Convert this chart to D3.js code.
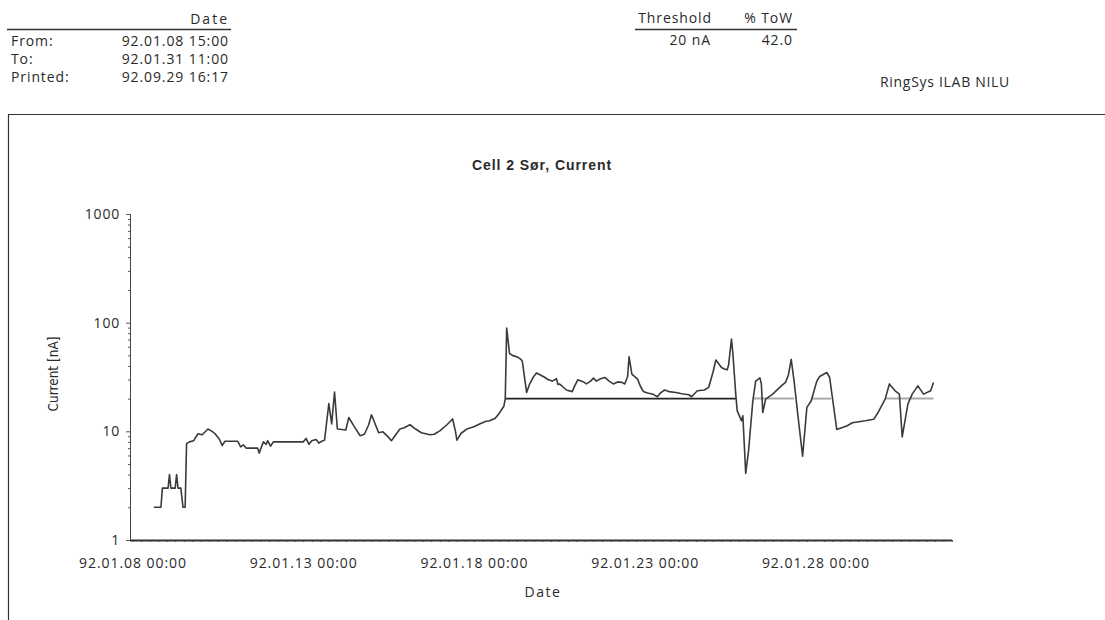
<!DOCTYPE html>
<html>
<head>
<meta charset="utf-8">
<script src="https://cdn.jsdelivr.net/npm/d3@7"></script>
<style>
  html, body { margin: 0; padding: 0; background: #fff; }
  svg { display: block; }
  .hdr { font-family: "Open Sans", Lato, sans-serif; font-size: 14px; fill: #2a2a2a; letter-spacing: 0.9px; }
</style>
</head>
<body>
<svg id="chart" width="1105" height="620"></svg>
<script>
// ---- data (hours since 92.01.08 00:00, current in nA) ----
const hours = [15,20,21,25,26,27,30,31,32,34,35.5,37,38,40,43,46,49,53,56,58,61,63,65,74,76,78,80,88,89,92,94,95,97,99,
  120,122,124,126,129,131,133,135,138,140,142,144,150,152,156,160,163,166,168,173,176,180,182,185,188,191,195,199,203,209,212,216,221,225,227,228,231,235,240,244,248,251,255,258,261,262,
  263,265,267,271,273,274,277,279,282,284,289,292,295,298,299,300,302,305,309,311,313,317,319,322,324,326,329,332,335,338,341,344,346,348,349,351,355,357,359,362,366,369,371,374,377,382,386,391,393,397,402,405,408,410,414,416,418,419,421,422,424,
  425,428,429,431,433,436,438,441,442,443,445,450,456,459,461,463,465,468,471,474,477,481,483,488,490,495,502,506,515,521,524,529,532,536,539,541,545,548,552,556,561,563];
const current = [2,2,3,3,4,3,3,4,3,3,2,2,7.7,8,8.2,9.5,9.3,10.5,10,9.5,8.5,7.4,8.1,8.1,7.2,7.5,7,7,6.3,8,7.6,8.2,7.3,8,
  8,8.6,7.6,8.2,8.4,7.8,8.1,8.3,18,11.7,23,10.5,10.3,13.4,11,9.1,9.4,11.5,14.2,9.7,9.9,8.8,8.2,9.3,10.5,10.8,11.5,10.5,9.7,9.3,9.4,10.1,11.5,13,10,8.3,9.6,10.5,11,11.7,12.3,12.5,13.2,14.8,17,20,
  89,52,50,48,46,44,22.8,27,32,34.4,31.8,30,29,30.5,27,27.3,26,24,23.2,26.5,29.8,28.5,27.3,29,30.9,29,30.5,31.3,29,27.3,28.5,28.2,27.3,32,48.6,33.6,30.2,26,23.3,22.5,21.9,20.8,22.5,24,23.2,22.8,22.2,21.7,20.8,23.6,24,25.4,35,45.3,38.7,37.5,36.8,41,70.8,51.8,22,
  15.5,12.5,13.9,4.1,6.6,19,29,31,27.3,14.9,19.8,22,26.2,28.2,33,46,29,12.9,5.9,16.6,19,29,32,34.8,31.3,10.4,11.2,12,12.5,12.9,14.9,19.8,27.3,23.6,22,8.9,17.8,22,26.2,22,23.6,28.2];

const thresholdValue = 20;
const thresholdStart = [262, 436, 477, 529];
const thresholdEnd   = [424, 465, 491, 563];

const xTickDays = [8, 13, 18, 23, 28];
const yTickValues = [1, 10, 100, 1000];

const headerRows = ["From:", "To:", "Printed:"];
const headerDates = ["92.01.08 15:00", "92.01.31 11:00", "92.09.29 16:17"];

// ---- drawing ----
const svg = d3.select("#chart");
const base = new Date(1992, 0, 8, 0, 0);
const toDate = h => new Date(base.getTime() + h * 3600 * 1000);

const x = d3.scaleTime().domain([base, new Date(1992, 1, 1, 0, 0)]).range([132.5, 952]);
const y = d3.scaleLog().domain([1, 1000]).range([540, 214]);
const axisX0 = 130;
const font = "'Open Sans', Lato, sans-serif";

// header
svg.append("text").attr("class", "hdr").attr("x", 229).attr("y", 24).attr("text-anchor", "end").style("letter-spacing", "2px").text("Date");
svg.append("line").attr("x1", 7).attr("x2", 231).attr("y1", 29.5).attr("y2", 29.5).attr("stroke", "#333").attr("stroke-width", 1.3);
headerRows.forEach((r, i) => {
  svg.append("text").attr("class", "hdr").attr("x", 11).attr("y", 46 + i * 18).text(r);
  svg.append("text").attr("class", "hdr").attr("x", 229).attr("y", 46 + i * 18).attr("text-anchor", "end").text(headerDates[i]);
});
svg.append("text").attr("class", "hdr").attr("x", 712).attr("y", 23).attr("text-anchor", "end").text("Threshold");
svg.append("text").attr("class", "hdr").attr("x", 793).attr("y", 23).attr("text-anchor", "end").text("% ToW");
svg.append("line").attr("x1", 635).attr("x2", 797).attr("y1", 29.5).attr("y2", 29.5).attr("stroke", "#333").attr("stroke-width", 1.3);
svg.append("text").attr("class", "hdr").attr("x", 711).attr("y", 45).attr("text-anchor", "end").text(thresholdValue + " nA");
svg.append("text").attr("class", "hdr").attr("x", 793).attr("y", 45).attr("text-anchor", "end").text("42.0");
svg.append("text").attr("class", "hdr").attr("x", 880).attr("y", 87).style("letter-spacing", "0.7px").text("RingSys ILAB NILU");

// frame
svg.append("path").attr("d", "M8.5,620 V114.5 H1105").attr("fill", "none").attr("stroke", "#333").attr("stroke-width", 1.2);

// title
svg.append("text").attr("x", 542).attr("y", 170).attr("text-anchor", "middle")
  .style("font-family", "'Liberation Sans', Arial, sans-serif").style("font-weight", "bold")
  .style("font-size", "14px").style("letter-spacing", "0.95px").attr("fill", "#2a2a2a")
  .text("Cell 2 Sør, Current");

// y axis
const minorY = [];
[1, 10, 100].forEach(d => { for (let k = 2; k <= 9; k++) minorY.push(d * k); });
const gy = svg.append("g").attr("transform", `translate(${axisX0},0)`);
gy.call(d3.axisLeft(y).tickValues(minorY).tickSize(2).tickFormat(""));
gy.append("g").call(d3.axisLeft(y).tickValues(yTickValues).tickSize(4).tickFormat(d3.format("d")).tickPadding(6));
gy.selectAll("path.domain").attr("stroke", "#444").attr("stroke-width", 1);
gy.selectAll(".tick line").attr("stroke", "#555");
gy.selectAll("text").style("font-family", font).style("font-size", "14px").style("letter-spacing", "0.8px").attr("fill", "#2a2a2a");

svg.append("text").attr("transform", "translate(58,374) rotate(-90)").attr("text-anchor", "middle")
  .style("font-family", "'DejaVu Sans Condensed', 'DejaVu Sans', sans-serif").style("font-size", "13.5px")
  .attr("fill", "#2a2a2a").text("Current [nA]");

// x axis
const gxMinor = svg.append("g").attr("transform", "translate(0,540)")
  .call(d3.axisBottom(x).ticks(d3.timeHour.every(6)).tickSize(2).tickFormat(""));
gxMinor.select("path.domain").remove();
gxMinor.selectAll(".tick line").attr("stroke", "#666");
const gx = svg.append("g").attr("transform", "translate(0,540)")
  .call(d3.axisBottom(x).tickValues(xTickDays.map(d => new Date(1992, 0, d, 0, 0)))
    .tickFormat(d3.timeFormat("%y.%m.%d %H:%M")).tickSize(0).tickPadding(18));
gx.select("path.domain").remove();
gx.selectAll("text").style("font-family", font).style("font-size", "14px").style("letter-spacing", "0.95px").attr("fill", "#2a2a2a");
svg.append("line").attr("x1", axisX0).attr("x2", x.range()[1]).attr("y1", 540.5).attr("y2", 540.5)
  .attr("stroke", "#333").attr("stroke-width", 2);
svg.append("text").attr("x", 543).attr("y", 597).attr("text-anchor", "middle")
  .style("font-family", font).style("font-size", "14px").style("letter-spacing", "1.5px").attr("fill", "#2a2a2a").text("Date");

// threshold segments
thresholdStart.forEach((s, i) => {
  svg.append("line").attr("x1", x(toDate(s))).attr("x2", x(toDate(thresholdEnd[i])))
    .attr("y1", y(thresholdValue)).attr("y2", y(thresholdValue))
    .attr("stroke", i === 0 ? "#222" : "#aaa").attr("stroke-width", i === 0 ? 1.6 : 2);
});

// data line
const pts = hours.map((h, i) => [toDate(h), current[i]]);
svg.append("path").datum(pts)
  .attr("d", d3.line().x(d => x(d[0])).y(d => y(d[1])))
  .attr("fill", "none").attr("stroke", "#3a3a3a").attr("stroke-width", 1.6).attr("stroke-linejoin", "round");
</script>
</body>
</html>
